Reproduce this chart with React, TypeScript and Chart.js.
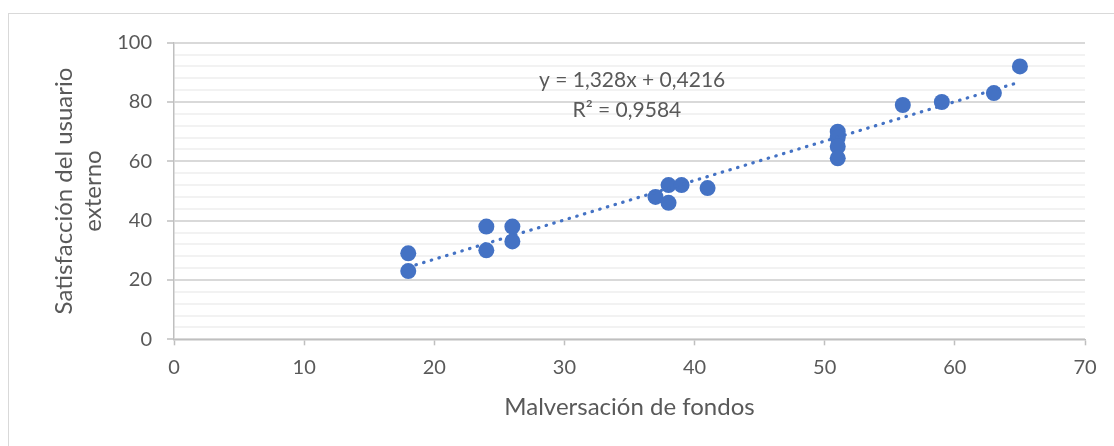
import React, { useEffect, useRef } from "react";
import { Chart, registerables } from "chart.js";

Chart.register(...registerables);

const xValues = [18, 18, 24, 24, 26, 26, 37, 38, 38, 39, 41, 51, 51, 51, 51, 56, 59, 63, 65];
const yValues = [29, 23, 38, 30, 38, 33, 48, 52, 46, 52, 51, 70, 68, 65, 61, 79, 80, 83, 92];
const trendSlope = 1.328;
const trendIntercept = 0.4216;
const equationLines = ["y = 1,328x + 0,4216", "R² = 0,9584"];
const xTitle = "Malversación de fondos";
const yTitle = ["Satisfacción del usuario", "externo"];

const FONT = "Lato, 'Open Sans', sans-serif";
const TEXT = "#595959";
const BLUE = "#4472C4";

export default function App() {
  const ref = useRef<HTMLCanvasElement | null>(null);

  useEffect(() => {
    if (!ref.current) return;
    const points = xValues.map((x, i) => ({ x, y: yValues[i] }));
    const xMin = Math.min(...xValues);
    const xMax = Math.max(...xValues);
    const trend = [
      { x: xMin, y: trendSlope * xMin + trendIntercept },
      { x: xMax, y: trendSlope * xMax + trendIntercept },
    ];

    const equationPlugin = {
      id: "equation",
      afterDatasetsDraw(chart: any) {
        const { ctx, scales } = chart;
        ctx.save();
        ctx.font = `21px ${FONT}`;
        ctx.fillStyle = TEXT;
        ctx.textAlign = "center";
        ctx.textBaseline = "middle";
        ctx.fillText(equationLines[0], scales.x.getPixelForValue(35.2), scales.y.getPixelForValue(87.4));
        ctx.fillText(equationLines[1], scales.x.getPixelForValue(34.8), scales.y.getPixelForValue(77.3));
        ctx.restore();
      },
    };

    const chart = new Chart(ref.current, {
      type: "scatter",
      data: {
        datasets: [
          {
            type: "line",
            data: trend,
            borderColor: BLUE,
            borderWidth: 3.2,
            borderDash: [0.5, 7.5],
            borderCapStyle: "round",
            pointRadius: 0,
            fill: false,
            order: 0,
          } as any,
          {
            data: points,
            backgroundColor: BLUE,
            borderColor: BLUE,
            borderWidth: 0,
            pointRadius: 8,
            pointHoverRadius: 8,
            order: 1,
          },
        ],
      },
      options: {
        animation: false,
        responsive: false,
        events: [],
        layout: { padding: { top: 42.7, right: 29, bottom: 0, left: 0 } },
        plugins: {
          legend: { display: false },
          tooltip: { enabled: false },
        },
        scales: {
          x: {
            type: "linear",
            min: 0,
            max: 70,
            ticks: { stepSize: 10, color: TEXT, font: { family: FONT, size: 20 }, padding: 10, maxRotation: 0 },
            grid: { drawOnChartArea: false, drawTicks: true, tickLength: 6, tickColor: "#bfbfbf", tickWidth: 1.5 },
            border: { color: "#bfbfbf", width: 1.5 },
            title: {
              display: true,
              text: xTitle,
              color: TEXT,
              font: { family: FONT, size: 24, lineHeight: 1.2 },
              padding: { top: 0, bottom: 24 },
            },
            afterFit(scale: any) {
              scale.height = 446 - 339.3;
            },
          },
          y: {
            type: "linear",
            min: 0,
            max: 100,
            ticks: {
              stepSize: 4,
              autoSkip: false,
              color: TEXT,
              font: { family: FONT, size: 20 },
              padding: 15,
              callback: (v: any) => (Number(v) % 20 === 0 ? String(v) : ""),
            },
            grid: {
              color: (c: any) => (c.tick && c.tick.value % 20 === 0 ? "#d9d9d9" : "#f2f2f2"),
              lineWidth: 2,
              tickLength: 7,
              tickColor: (c: any) => (c.tick && c.tick.value % 20 === 0 ? "#bfbfbf" : "rgba(0,0,0,0)"),
              tickWidth: 1.5,
            },
            border: { color: "#bfbfbf", width: 1.5 },
            title: {
              display: true,
              text: yTitle,
              color: TEXT,
              font: { family: FONT, size: 24, lineHeight: 1.21 },
              padding: { top: 50, bottom: 0 },
            },
            afterFit(scale: any) {
              scale.width = 174;
            },
          },
        },
      },
      plugins: [equationPlugin],
    });
    return () => chart.destroy();
  }, []);

  return (
    <div style={{ position: "fixed", left: 0, top: 0, width: 1114, height: 446, background: "#fff", overflow: "hidden" }}>
      <div
        style={{
          position: "absolute",
          left: 8,
          top: 13,
          width: 1200,
          height: 600,
          border: "1.5px solid #d9d9d9",
        }}
      />
      <canvas ref={ref} width={1114} height={446} style={{ position: "absolute", left: 0, top: 0 }} />
    </div>
  );
}
